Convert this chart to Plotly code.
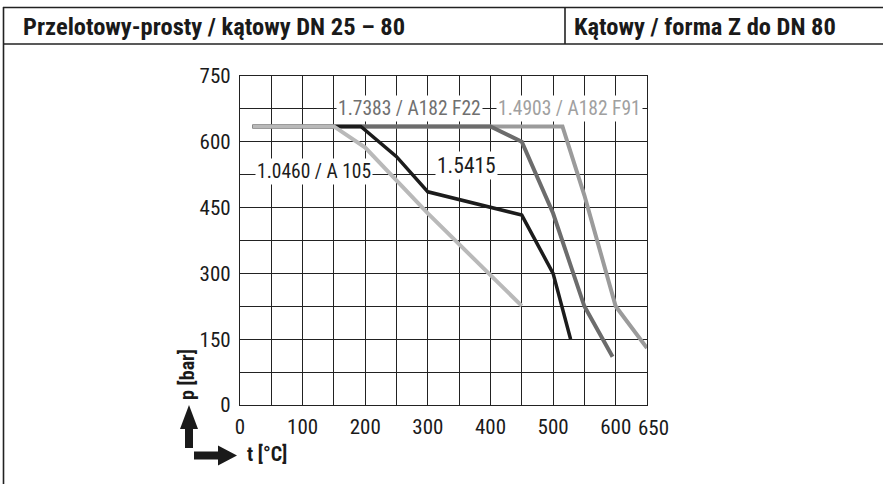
import plotly.graph_objects as go

W, H = 883, 484
# plot area in pixels
PL, PR, PT, PB = 240, 647, 76, 405

# ---------------- data ----------------
t_f91 = [20, 515, 550, 600, 650]
p_f91 = [635, 635, 478, 225, 130]

t_f22 = [20, 400, 450, 500, 550, 595]
p_f22 = [635, 635, 600, 437, 225, 110]

t_1545 = [20, 193, 250, 300, 450, 500, 528]
p_1545 = [635, 635, 566, 486, 433, 300, 150]

t_a105 = [20, 150, 200, 300, 400, 450]
p_a105 = [635, 635, 587, 437, 296, 226]

series_names = ["1.4903 / A182 F91", "1.7383 / A182 F22", "1.5415", "1.0460 / A 105"]
series_colors = ["#9b9b9b", "#6c6c6c", "#1c1c1c", "#b9b9b9"]

x_ticks = list(range(0, 651, 50))
x_ticktext = ["0", "", "100", "", "200", "", "300", "", "400", "", "500", "", "600", ""]
x_last_label = "650"
y_ticks = list(range(0, 751, 75))
y_ticktext = [str(v) if v % 150 == 0 else "" for v in y_ticks]

header_left = "Przelotowy-prosty / kątowy DN 25 – 80"
header_right = "Kątowy / forma Z do DN 80"

FONT = "Roboto Condensed, Liberation Sans Narrow, sans-serif"

def px(x):
    return (x - PL) / (PR - PL)

def py(y):
    return (PB - y) / (PB - PT)

fig = go.Figure()
for t, p, name, col in zip([t_f91, t_f22, t_1545, t_a105],
                           [p_f91, p_f22, p_1545, p_a105],
                           series_names, series_colors):
    fig.add_trace(go.Scatter(x=t, y=p, mode="lines", name=name,
                             line=dict(color=col, width=4 if col != "#1c1c1c" else 3.5),
                             showlegend=False, hoverinfo="skip"))

# series labels (data coordinates)
labels = [
    (271, 675, "1.7383 / A182 F22", "#707070", 19.5),
    (527, 675, "1.4903 / A182 F91", "#a0a0a0", 19.5),
    (118, 532, "1.0460 / A 105", "#1c1c1c", 19.5),
    (362, 546, "1.5415", "#1c1c1c", 21.5),
]
for x, y, txt, col, sz in labels:
    fig.add_annotation(x=x, y=y, xref="x", yref="y", text=txt, showarrow=False,
                       font=dict(family=FONT, size=sz, color=col),
                       bgcolor="white", borderpad=1, xanchor="center", yanchor="middle")

# last x tick label, nudged right as in the reference
fig.add_annotation(x=x_ticks[-1], y=py(427.5), xref="x", yref="paper", text=x_last_label,
                   showarrow=False, xanchor="center", yanchor="middle", xshift=6,
                   font=dict(family=FONT, size=21, color="#1a1a1a"))

shapes = []
lc = "#222222"
# outer frame / header
shapes.append(dict(type="line", xref="paper", yref="paper", x0=px(3), x1=px(883), y0=py(7.5), y1=py(7.5), line=dict(color=lc, width=1.6)))
shapes.append(dict(type="line", xref="paper", yref="paper", x0=px(3), x1=px(883), y0=py(44), y1=py(44), line=dict(color=lc, width=1.6)))
shapes.append(dict(type="line", xref="paper", yref="paper", x0=px(3.5), x1=px(3.5), y0=py(7), y1=py(484), line=dict(color=lc, width=1.6)))
shapes.append(dict(type="line", xref="paper", yref="paper", x0=px(565), x1=px(565), y0=py(7), y1=py(44), line=dict(color=lc, width=1.6)))

# arrows
def path(pts):
    return "M " + " L ".join(f"{px(a)},{py(b)}" for a, b in pts) + " Z"

up = [(185, 448), (193, 448), (193, 429), (198, 429), (189, 405), (180, 429), (185, 429)]
right = [(194, 451.5), (218, 451.5), (218, 445.5), (237, 455.5), (218, 465.5), (218, 459.5), (194, 459.5)]
for pts in (up, right):
    shapes.append(dict(type="path", xref="paper", yref="paper", path=path(pts),
                       fillcolor="#1a1a1a", line=dict(width=0)))

fig.update_layout(shapes=shapes)

fig.add_annotation(x=px(21), y=py(27), xref="paper", yref="paper", text=f"<b>{header_left}</b>",
                   showarrow=False, xanchor="left", yanchor="middle",
                   font=dict(family=FONT, size=24.5, color="#1a1a1a"))
fig.add_annotation(x=px(572), y=py(27), xref="paper", yref="paper", text=f"<b>{header_right}</b>",
                   showarrow=False, xanchor="left", yanchor="middle",
                   font=dict(family=FONT, size=24.5, color="#1a1a1a"))
fig.add_annotation(x=px(187), y=py(375), xref="paper", yref="paper", text="<b>p [bar]</b>",
                   showarrow=False, textangle=-90, xanchor="center", yanchor="middle",
                   font=dict(family=FONT, size=20, color="#1a1a1a"))
fig.add_annotation(x=px(245), y=py(454), xref="paper", yref="paper", text="<b>t [°C]</b>",
                   showarrow=False, xanchor="left", yanchor="middle",
                   font=dict(family=FONT, size=20, color="#1a1a1a"))

axis_common = dict(showgrid=True, gridcolor="#222222", gridwidth=1.3, zeroline=False,
                   showline=True, linecolor="#222222", linewidth=1.3, mirror=True,
                   ticks="", tickfont=dict(family=FONT, size=21, color="#1a1a1a"),
                   fixedrange=True)
fig.update_xaxes(range=[0, 650], tickmode="array", tickvals=x_ticks, ticktext=x_ticktext,
                 tickangle=0, ticklabelstandoff=3, **axis_common)
fig.update_yaxes(range=[0, 750], tickmode="array", tickvals=y_ticks, ticktext=y_ticktext,
                 ticklabelstandoff=4, **axis_common)

fig.update_layout(width=W, height=H, margin=dict(l=PL, r=W - PR, t=PT, b=H - PB, pad=0),
                  plot_bgcolor="white", paper_bgcolor="white", showlegend=False)

fig.write_html("out.html")
